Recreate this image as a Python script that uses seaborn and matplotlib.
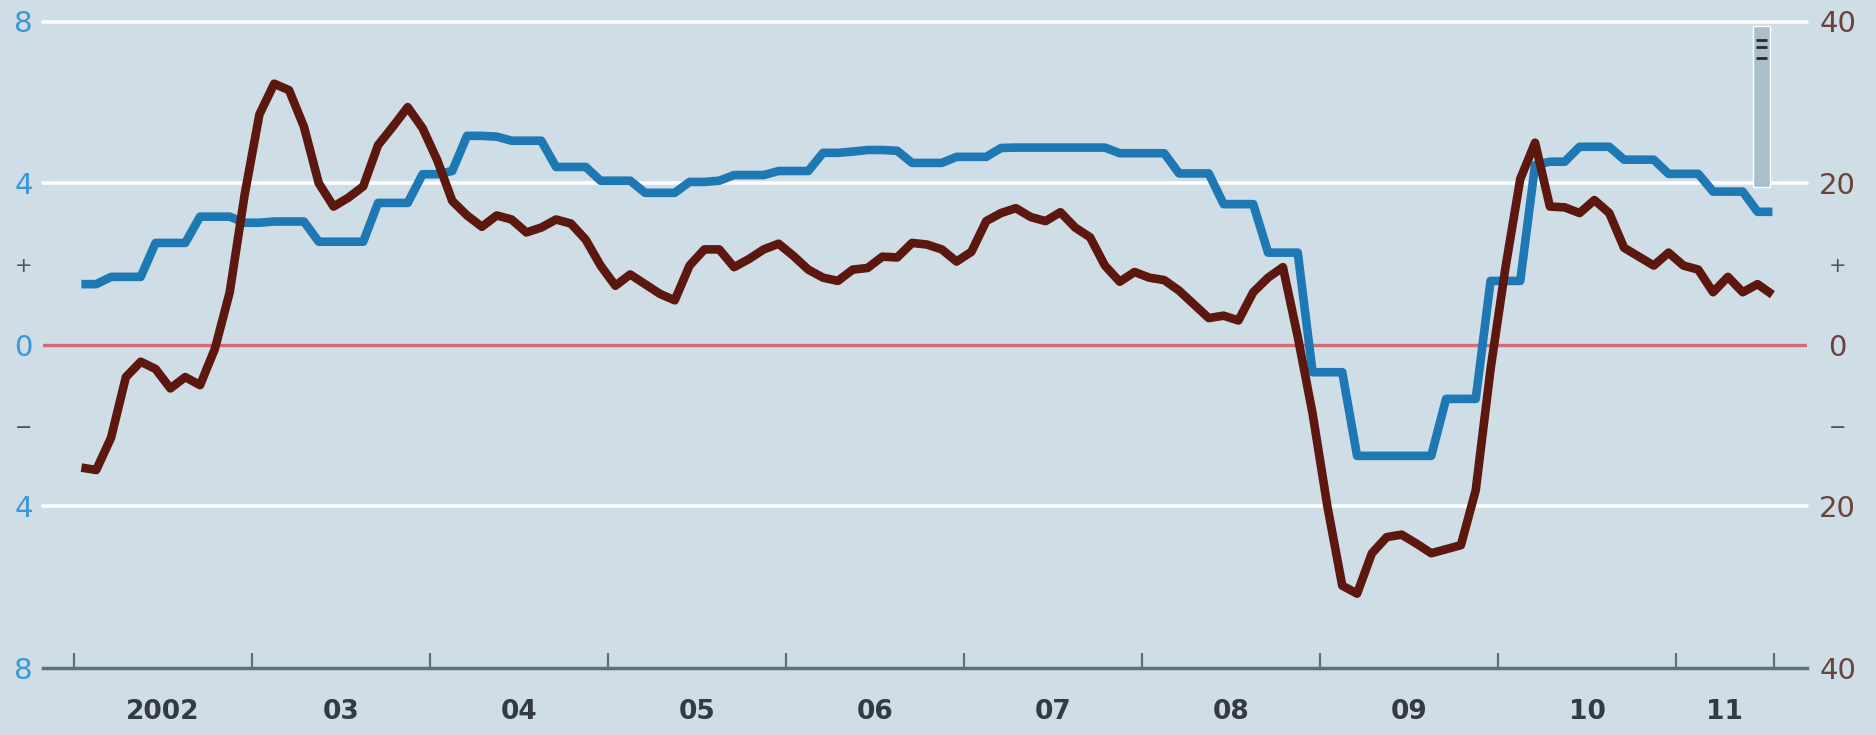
import numpy as np
import matplotlib
matplotlib.use("Agg")
import matplotlib.pyplot as plt
import seaborn as sns

# ---------------- data (monthly, Jan 2002 - Jul 2011) ----------------
blue_left = [1.5, 1.5, 1.68, 1.68, 1.68, 2.52, 2.52, 2.52, 3.17, 3.17, 3.17, 3.02,
             3.02, 3.05, 3.05, 3.05, 2.55, 2.55, 2.55, 2.55, 3.51, 3.51, 3.51, 4.22,
             4.22, 4.3, 5.17, 5.17, 5.15, 5.05, 5.05, 5.05, 4.4, 4.4, 4.4, 4.06,
             4.06, 4.06, 3.76, 3.76, 3.76, 4.03, 4.03, 4.06, 4.2, 4.2, 4.2, 4.3,
             4.3, 4.3, 4.75, 4.75, 4.78, 4.82, 4.82, 4.8, 4.5, 4.5, 4.5, 4.65,
             4.65, 4.65, 4.87, 4.88, 4.88, 4.88, 4.88, 4.88, 4.88, 4.88, 4.74, 4.74,
             4.74, 4.74, 4.24, 4.24, 4.24, 3.48, 3.48, 3.48, 2.28, 2.28, 2.28, -0.68,
             -0.68, -0.68, -2.75, -2.75, -2.75, -2.75, -2.75, -2.75, -1.34, -1.34, -1.34, 1.58,
             1.58, 1.58, 4.45, 4.53, 4.53, 4.9, 4.9, 4.9, 4.58, 4.58, 4.58, 4.23,
             4.23, 4.23, 3.79, 3.79, 3.79, 3.29, 3.29]

brown_right = [-15.2, -15.5, -11.5, -4.0, -2.1, -3.0, -5.4, -4.0, -5.0, -0.5, 6.5, 18.5,
               28.5, 32.3, 31.5, 27.0, 20.0, 17.1, 18.2, 19.6, 24.7, 27.0, 29.4, 26.8,
               22.8, 17.8, 16.0, 14.6, 16.0, 15.5, 13.9, 14.5, 15.5, 15.0, 13.0, 9.8,
               7.3, 8.7, 7.5, 6.3, 5.5, 9.8, 11.8, 11.8, 9.6, 10.6, 11.8, 12.5,
               11.0, 9.3, 8.3, 7.9, 9.3, 9.5, 10.9, 10.8, 12.6, 12.4, 11.8, 10.3,
               11.5, 15.3, 16.3, 16.9, 15.8, 15.3, 16.4, 14.5, 13.3, 9.8, 7.8, 9.0,
               8.3, 8.0, 6.7, 5.0, 3.3, 3.6, 3.0, 6.5, 8.3, 9.6, 1.0, -8.5,
               -20.0, -29.8, -30.8, -25.8, -23.8, -23.5, -24.6, -25.8, -25.3, -24.8, -18.0, -3.0,
               9.5, 20.5, 25.0, 17.1, 17.0, 16.3, 17.9, 16.3, 12.0, 10.9, 9.8, 11.4,
               9.8, 9.3, 6.5, 8.4, 6.5, 7.5, 6.2]

start_year = 2002
year_labels = ["2002", "03", "04", "05", "06", "07", "08", "09", "10", "11"]
left_ticks = [8, 4, 2, 0, -2, -4, -8]
left_labels = ["8", "4", "+", "0", "\u2212", "4", "8"]
right_ticks = [40, 20, 10, 0, -10, -20, -40]
right_labels = ["40", "20", "+", "0", "\u2212", "20", "40"]
last_tick = 2011.55

# forecast-range bar (left-axis units)
bar_low, bar_high = 3.9, 7.9
bar_marks = [7.54, 7.37, 7.1]
bar_center, bar_width = 2011.48, 0.095

# ---------------- style ----------------
BG = "#cedde6"
BLUE = "#1e78b4"
BROWN = "#5c180f"
LBLUE = "#3a98d4"
RBROWN = "#6a433d"
AXC = "#5d7080"

sns.set_style("white")
plt.rcParams["font.family"] = ["DejaVu Sans"]

W, H = 1876, 735
fig = plt.figure(figsize=(W / 100, H / 100), dpi=100, facecolor=BG)
ax = fig.add_axes([43 / W, 1 - 668 / H, (1807 - 43) / W, (668 - 21.5) / H])
ax.set_facecolor(BG)

n = len(blue_left)
dec_year = start_year + (np.arange(n) + 0.5) / 12.0

ax.set_xlim(2001.826, 2011.736)
ax.set_ylim(-8, 8)

# gridlines
for g in [8, 4, -4]:
    ax.axhline(g, color="white", lw=2.6, zorder=1, clip_on=False)
ax.axhline(0, color="#d46a76", lw=2.4, zorder=2)

# forecast bar
ax.bar([bar_center], [bar_high - bar_low], bottom=bar_low, width=bar_width,
       color="#a9c0cc", zorder=2)
ax.hlines(bar_marks, bar_center - bar_width * 0.3, bar_center + bar_width * 0.3,
          color="#2a2a2a", lw=2, zorder=3)

sns.lineplot(x=dec_year, y=blue_left, ax=ax, color=BLUE, lw=6.2, zorder=4,
             solid_joinstyle="round", solid_capstyle="butt")

ax2 = ax.twinx()
ax2.set_ylim(-40, 40)
sns.lineplot(x=dec_year, y=brown_right, ax=ax2, color=BROWN, lw=6.2, zorder=5,
             solid_joinstyle="round", solid_capstyle="butt")

for a in (ax, ax2):
    for s in a.spines.values():
        s.set_visible(False)
    a.set_xlabel("")
    a.set_ylabel("")
ax.spines["bottom"].set_visible(True)
ax.spines["bottom"].set_color(AXC)
ax.spines["bottom"].set_linewidth(2.5)

# x ticks
major = list(range(2002, 2012)) + [last_tick]
ax.set_xticks(major)
ax.set_xticklabels([""] * len(major))
ax.tick_params(axis="x", which="major", bottom=True, direction="in", length=11,
               width=1.6, color=AXC)
bounds = major
mids = [(bounds[k] + bounds[k + 1]) / 2 for k in range(len(bounds) - 1)]
ax.set_xticks(mids, minor=True)
ax.set_xticklabels(year_labels, minor=True)
ax.tick_params(axis="x", which="minor", bottom=True, length=0, pad=22,
               labelsize=19, labelcolor="#333a40")
for t in ax.get_xticklabels(minor=True):
    t.set_fontweight("bold")

# left y ticks
ax.set_yticks(left_ticks)
ax.set_yticklabels(left_labels)
ax.tick_params(axis="y", length=0, pad=14, labelsize=21, labelcolor=LBLUE)
for t in ax.get_yticklabels():
    t.set_horizontalalignment("center")
    if t.get_text() in ("+", "\u2212"):
        t.set_fontsize(15)
        t.set_color("#4a5866")

ax2.set_yticks(right_ticks)
ax2.set_yticklabels(right_labels)
ax2.tick_params(axis="y", length=0, pad=22, labelsize=21, labelcolor=RBROWN)
for t in ax2.get_yticklabels():
    t.set_horizontalalignment("center")
    if t.get_text() in ("+", "\u2212"):
        t.set_fontsize(15)
        t.set_color("#4a5866")

fig.savefig("out.png", dpi=100, facecolor=BG)
